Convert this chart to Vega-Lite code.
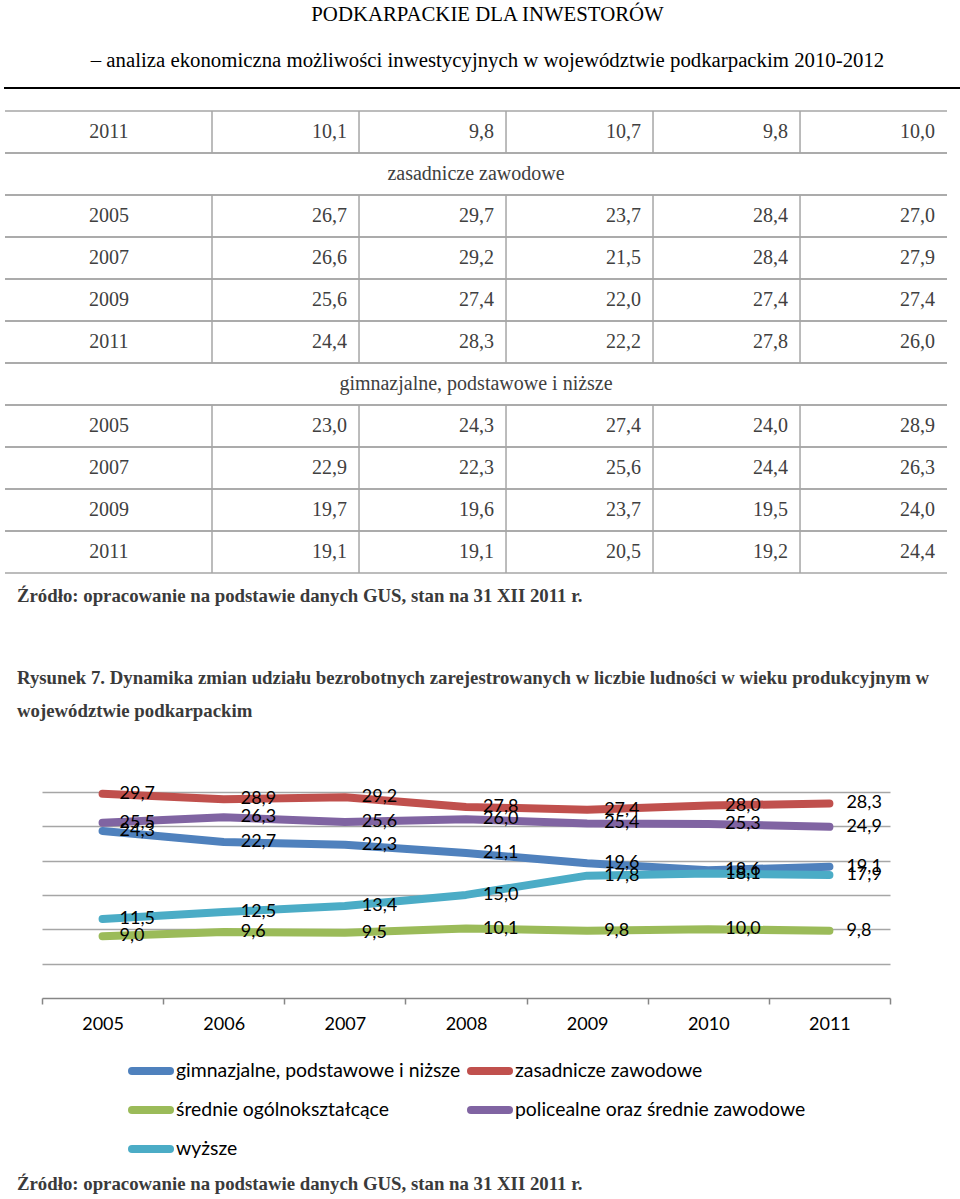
{
  "$schema": "https://vega.github.io/schema/vega-lite/v6.json",
  "background": "#ffffff",
  "padding": {"left": 3, "top": 2, "right": 0, "bottom": 0},
  "columns": 1,
  "spacing": 0,
  "bounds": "full",
  "datasets": {
    "tbl": [
      {"r": 0, "year": "2011", "c1": 10.1, "c2": 9.8, "c3": 10.7, "c4": 9.8, "c5": 10.0},
      {"r": 1, "section": "zasadnicze zawodowe"},
      {"r": 2, "year": "2005", "c1": 26.7, "c2": 29.7, "c3": 23.7, "c4": 28.4, "c5": 27.0},
      {"r": 3, "year": "2007", "c1": 26.6, "c2": 29.2, "c3": 21.5, "c4": 28.4, "c5": 27.9},
      {"r": 4, "year": "2009", "c1": 25.6, "c2": 27.4, "c3": 22.0, "c4": 27.4, "c5": 27.4},
      {"r": 5, "year": "2011", "c1": 24.4, "c2": 28.3, "c3": 22.2, "c4": 27.8, "c5": 26.0},
      {"r": 6, "section": "gimnazjalne, podstawowe i niższe"},
      {"r": 7, "year": "2005", "c1": 23.0, "c2": 24.3, "c3": 27.4, "c4": 24.0, "c5": 28.9},
      {"r": 8, "year": "2007", "c1": 22.9, "c2": 22.3, "c3": 25.6, "c4": 24.4, "c5": 26.3},
      {"r": 9, "year": "2009", "c1": 19.7, "c2": 19.6, "c3": 23.7, "c4": 19.5, "c5": 24.0},
      {"r": 10, "year": "2011", "c1": 19.1, "c2": 19.1, "c3": 20.5, "c4": 19.2, "c5": 24.4}
    ],
    "series": [
      {"series": "gimnazjalne, podstawowe i niższe", "year": "2005", "value": 24.3},
      {"series": "gimnazjalne, podstawowe i niższe", "year": "2006", "value": 22.7},
      {"series": "gimnazjalne, podstawowe i niższe", "year": "2007", "value": 22.3},
      {"series": "gimnazjalne, podstawowe i niższe", "year": "2008", "value": 21.1},
      {"series": "gimnazjalne, podstawowe i niższe", "year": "2009", "value": 19.6},
      {"series": "gimnazjalne, podstawowe i niższe", "year": "2010", "value": 18.6},
      {"series": "gimnazjalne, podstawowe i niższe", "year": "2011", "value": 19.1},
      {"series": "zasadnicze zawodowe", "year": "2005", "value": 29.7},
      {"series": "zasadnicze zawodowe", "year": "2006", "value": 28.9},
      {"series": "zasadnicze zawodowe", "year": "2007", "value": 29.2},
      {"series": "zasadnicze zawodowe", "year": "2008", "value": 27.8},
      {"series": "zasadnicze zawodowe", "year": "2009", "value": 27.4},
      {"series": "zasadnicze zawodowe", "year": "2010", "value": 28.0},
      {"series": "zasadnicze zawodowe", "year": "2011", "value": 28.3},
      {"series": "średnie ogólnokształcące", "year": "2005", "value": 9.0},
      {"series": "średnie ogólnokształcące", "year": "2006", "value": 9.6},
      {"series": "średnie ogólnokształcące", "year": "2007", "value": 9.5},
      {"series": "średnie ogólnokształcące", "year": "2008", "value": 10.1},
      {"series": "średnie ogólnokształcące", "year": "2009", "value": 9.8},
      {"series": "średnie ogólnokształcące", "year": "2010", "value": 10.0},
      {"series": "średnie ogólnokształcące", "year": "2011", "value": 9.8},
      {"series": "policealne oraz średnie zawodowe", "year": "2005", "value": 25.5},
      {"series": "policealne oraz średnie zawodowe", "year": "2006", "value": 26.3},
      {"series": "policealne oraz średnie zawodowe", "year": "2007", "value": 25.6},
      {"series": "policealne oraz średnie zawodowe", "year": "2008", "value": 26.0},
      {"series": "policealne oraz średnie zawodowe", "year": "2009", "value": 25.4},
      {"series": "policealne oraz średnie zawodowe", "year": "2010", "value": 25.3},
      {"series": "policealne oraz średnie zawodowe", "year": "2011", "value": 24.9},
      {"series": "wyższe", "year": "2005", "value": 11.5},
      {"series": "wyższe", "year": "2006", "value": 12.5},
      {"series": "wyższe", "year": "2007", "value": 13.4},
      {"series": "wyższe", "year": "2008", "value": 15.0},
      {"series": "wyższe", "year": "2009", "value": 17.8},
      {"series": "wyższe", "year": "2010", "value": 18.1},
      {"series": "wyższe", "year": "2011", "value": 17.9}
    ]
  },
  "concat": [
    {
      "width": 955,
      "height": 0.01,
      "view": {"stroke": "#000000", "strokeWidth": 2},
      "data": {"values": [{}]},
      "mark": "rule",
      "encoding": {},
      "title": {
        "text": "PODKARPACKIE DLA INWESTORÓW",
        "subtitle": "– analiza ekonomiczna możliwości inwestycyjnych w województwie podkarpackim 2010-2012",
        "anchor": "middle",
        "frame": "group",
        "dx": 5,
        "offset": 16,
        "font": "Liberation Serif",
        "fontSize": 20.8,
        "fontWeight": "normal",
        "color": "#000000",
        "subtitleFont": "Liberation Serif",
        "subtitleFontSize": 20.8,
        "subtitleColor": "#000000",
        "subtitlePadding": 25
      }
    },
    {
      "width": 942,
      "height": 483,
      "data": {"name": "tbl"},
      "title": {
        "text": "Źródło: opracowanie na podstawie danych GUS, stan na 31 XII 2011 r.",
        "subtitle": ["Rysunek 7. Dynamika zmian udziału bezrobotnych zarejestrowanych w liczbie ludności w wieku produkcyjnym w", "województwie podkarpackim"],
        "orient": "bottom",
        "anchor": "start",
        "frame": "group",
        "dx": 12,
        "offset": 13,
        "font": "Liberation Serif",
        "fontSize": 18.8,
        "fontWeight": "bold",
        "color": "#3a3a3a",
        "subtitleFont": "Liberation Serif",
        "subtitleFontSize": 18.8,
        "subtitleFontWeight": "bold",
        "subtitleColor": "#3a3a3a",
        "subtitlePadding": 63,
        "subtitleLineHeight": 33
      },
      "resolve": {"scale": {"x": "independent"}},
      "layer": [
        {
          "layer": [
            {
              "mark": {"type": "rule", "color": "#a6a6a6", "strokeWidth": 1.5},
              "encoding": {
                "y": {"field": "r", "type": "ordinal", "bandPosition": 0, "scale": {"type": "band", "paddingInner": 0, "paddingOuter": 0.25, "align": 1}, "axis": null}
              }
            },
            {
              "mark": {"type": "rule", "color": "#a6a6a6", "strokeWidth": 1.5},
              "encoding": {
                "y": {"field": "r", "type": "ordinal", "bandPosition": 1, "axis": null}
              }
            },
            {
              "transform": [{"filter": "isValid(datum.year)"}, {"fold": ["c1", "c2", "c3", "c4", "c5"], "as": ["col", "v"]}],
              "mark": {"type": "text", "align": "right", "baseline": "middle", "dx": -12, "font": "Liberation Serif", "fontSize": 20, "color": "#404040"},
              "encoding": {
                "x": {"field": "col", "type": "nominal", "bandPosition": 1, "scale": {"type": "band", "domain": ["c1", "c2", "c3", "c4", "c5"], "paddingInner": 0, "paddingOuter": 0.704, "align": 1}, "axis": null},
                "y": {"field": "r", "type": "ordinal", "axis": null},
                "text": {"field": "v", "type": "quantitative", "format": ".1f"}
              }
            },
            {
              "transform": [{"filter": "isValid(datum.year)"}],
              "mark": {"type": "text", "align": "center", "baseline": "middle", "dx": -103, "font": "Liberation Serif", "fontSize": 20, "color": "#404040"},
              "encoding": {
                "x": {"datum": "c1", "type": "nominal", "bandPosition": 0, "axis": null},
                "y": {"field": "r", "type": "ordinal", "axis": null},
                "text": {"field": "year", "type": "nominal"}
              }
            },
            {
              "transform": [{"filter": "isValid(datum.section)"}],
              "mark": {"type": "text", "align": "center", "baseline": "middle", "font": "Liberation Serif", "fontSize": 20, "color": "#404040"},
              "encoding": {
                "y": {"field": "r", "type": "ordinal", "axis": null},
                "text": {"field": "section", "type": "nominal"}
              }
            }
          ]
        },
        {
          "transform": [{"filter": "isValid(datum.year)"}, {"fold": ["c1", "c2", "c3", "c4", "c5"], "as": ["col", "v"]}],
          "mark": {"type": "bar", "width": 1.5, "color": "#a6a6a6"},
          "encoding": {
            "x": {"field": "col", "type": "nominal", "scale": {"type": "band", "domain": ["c1", "c2", "c3", "c4", "c5"], "paddingInner": 0, "paddingOuter": 0.704, "align": 0.645}, "axis": null},
            "y": {"field": "r", "type": "ordinal", "axis": null}
          }
        }
      ]
    },
    {
      "width": 885,
      "height": 277,
      "data": {"name": "series"},
      "title": {
        "text": "Źródło: opracowanie na podstawie danych GUS, stan na 31 XII 2011 r.",
        "orient": "bottom",
        "anchor": "start",
        "frame": "group",
        "dx": 12,
        "offset": 142,
        "font": "Liberation Serif",
        "fontSize": 18.8,
        "fontWeight": "bold",
        "color": "#3a3a3a"
      },
      "encoding": {
        "x": {
          "field": "year", "type": "ordinal",
          "scale": {"type": "band", "paddingInner": 0, "paddingOuter": 0, "range": [37, 885]},
          "axis": {"title": null, "labelAngle": 0, "labelFont": "Lato", "labelFontSize": 18, "labelColor": "#000000", "labelPadding": 11, "domainColor": "#868686", "domainWidth": 1.5, "tickColor": "#868686", "tickWidth": 1.5, "tickSize": 6, "tickBand": "extent", "grid": false}
        },
        "y": {
          "field": "value", "type": "quantitative",
          "scale": {"domain": [0, 40.3], "nice": false},
          "axis": {"title": null, "values": [5, 10, 15, 20, 25, 30], "grid": true, "gridColor": "#a6a6a6", "gridWidth": 1.5, "domain": false, "ticks": false, "labels": false}
        }
      },
      "layer": [
        {
          "mark": {"type": "line", "strokeWidth": 8, "strokeCap": "round", "strokeJoin": "round"},
          "encoding": {
            "color": {
              "field": "series", "type": "nominal",
              "scale": {"domain": ["gimnazjalne, podstawowe i niższe", "zasadnicze zawodowe", "średnie ogólnokształcące", "policealne oraz średnie zawodowe", "wyższe"], "range": ["#4F81BD", "#C0504D", "#9BBB59", "#8064A2", "#4BACC6"]},
              "legend": {"title": null, "orient": "none", "legendX": 123, "legendY": 960, "columns": 2, "direction": "horizontal", "symbolType": "stroke", "symbolSize": 1444, "symbolStrokeWidth": 8, "labelFont": "Lato", "labelFontSize": 19.4, "labelColor": "#000000", "labelOffset": 2, "columnPadding": -6, "rowPadding": -2, "padding": 0, "labelLimit": 400, "encode": {"symbols": {"update": {"strokeCap": {"value": "round"}}}}}
            }
          }
        },
        {
          "mark": {"type": "text", "align": "left", "baseline": "middle", "dx": 17, "font": "Lato", "fontSize": 18, "color": "#000000"},
          "encoding": {
            "detail": {"field": "series", "type": "nominal"},
            "text": {"field": "value", "type": "quantitative", "format": ".1f"}
          }
        }
      ]
    }
  ],
  "config": {
    "locale": {"number": {"decimal": ",", "thousands": " ", "grouping": [3], "currency": ["", " zł"]}},
    "view": {"stroke": null}
  }
}
